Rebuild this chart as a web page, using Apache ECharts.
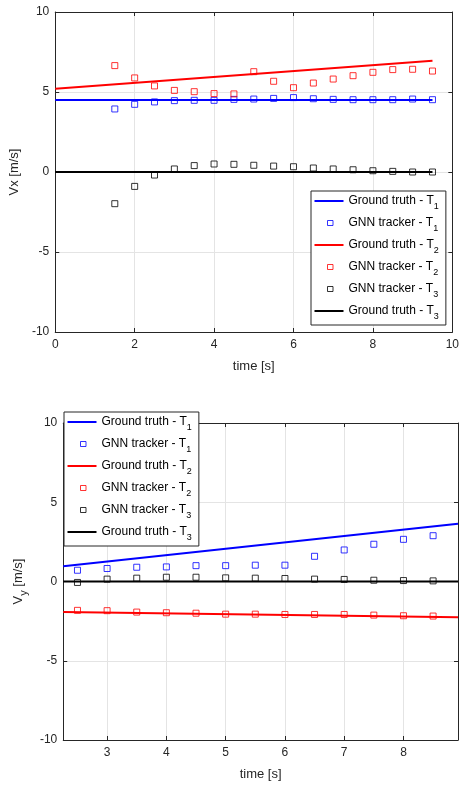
<!DOCTYPE html>
<html><head><meta charset="utf-8">
<script src="https://cdn.jsdelivr.net/npm/echarts@6/dist/echarts.min.js"></script>
<style>html,body{margin:0;padding:0;background:#fff}#c{width:462px;height:787px}</style>
</head><body><div id="c"></div>
<script>
// ---- Data: Vx chart ----
const tTrackX = [1.5,2,2.5,3,3.5,4,4.5,5,5.5,6,6.5,7,7.5,8,8.5,9,9.5];
const vxGnn1 = [3.94,4.23,4.38,4.46,4.48,4.48,4.54,4.56,4.6,4.65,4.58,4.54,4.52,4.52,4.52,4.56,4.52];
const vxGnn2 = [6.65,5.88,5.38,5.1,5.02,4.9,4.88,6.27,5.67,5.27,5.56,5.81,6.02,6.23,6.4,6.42,6.31];
const vxGnn3 = [-1.98,-0.9,-0.19,0.19,0.4,0.5,0.48,0.42,0.37,0.33,0.25,0.19,0.14,0.08,0.04,0,0];
const tTruthX = [0, 9.5];
const vxGt1 = [4.5, 4.5];
const vxGt2 = [5.2, 6.95];
const vxGt3 = [0, 0];
// ---- Data: Vy chart ----
const tTrackY = [2.5,3,3.5,4,4.5,5,5.5,6,6.5,7,7.5,8,8.5];
const vyGnn1 = [0.71,0.82,0.9,0.92,1.0,1.0,1.03,1.03,1.59,1.99,2.35,2.66,2.89];
const vyGnn2 = [-1.82,-1.84,-1.93,-1.97,-2.0,-2.06,-2.06,-2.08,-2.08,-2.08,-2.12,-2.16,-2.18];
const vyGnn3 = [-0.06,0.15,0.21,0.27,0.27,0.23,0.21,0.19,0.15,0.13,0.08,0.06,0.04];
const tTruthY = [2.26, 8.92];
const vyGt1 = [0.96, 3.65];
const vyGt2 = [-1.93, -2.25];
const vyGt3 = [0, 0];
// ---- Ticks ----
const xTicksTop = [0, 10, 2];
const xTicksBottom = [3,4,5,6,7,8];
const yRange = [-10, 10, 5];

const legendNames = ['GT1','GNN1','GT2','GNN2','GNN3','GT3'];
const legendLabels = {
  GT1: ['Ground truth - T','1'], GNN1: ['GNN tracker - T','1'],
  GT2: ['Ground truth - T','2'], GNN2: ['GNN tracker - T','2'],
  GNN3: ['GNN tracker - T','3'], GT3: ['Ground truth - T','3']
};
const legendColors = {GNN1:'#0000ff', GNN2:'#ff0000', GNN3:'#000000'};

const axisColor = '#262626';
const gridColor = '#e4e4e4';
const font = 'Liberation Sans, Arial, sans-serif';

function pairs(xs, ys){ return xs.map((x,i)=>[x, ys[i]]); }

function xAxisCfg(gridIndex, position, showLabel, min, max, interval, custom, name){
  const cfg = {
    type:'value', gridIndex, position, min, max,
    axisLine:{show:true, onZero:false, lineStyle:{color:axisColor, width:1}},
    axisTick:{show:true, inside:true, length:4, lineStyle:{color:axisColor}},
    axisLabel:{show:showLabel, color:axisColor, fontSize:12, fontFamily:font, margin:7},
    splitLine:{show:showLabel, lineStyle:{color:gridColor, width:1}},
  };
  if (interval) cfg.interval = interval;
  if (custom) { cfg.axisTick.customValues = custom; cfg.axisLabel.customValues = custom; }
  if (name) {
    cfg.name = name; cfg.nameLocation = 'middle'; cfg.nameGap = 28;
    cfg.nameTextStyle = {color:axisColor, fontSize:13, fontFamily:font};
  }
  return cfg;
}
function yAxisCfg(gridIndex, position, showLabel, name, nameGap, rich){
  const cfg = {
    type:'value', gridIndex, position, min:yRange[0], max:yRange[1], interval:yRange[2],
    axisLine:{show:true, onZero:false, lineStyle:{color:axisColor, width:1}},
    axisTick:{show:true, inside:true, length:4, lineStyle:{color:axisColor}},
    axisLabel:{show:showLabel, color:axisColor, fontSize:12, fontFamily:font, margin:6},
    splitLine:{show:showLabel, lineStyle:{color:gridColor, width:1}},
  };
  if (name) {
    cfg.name = name; cfg.nameLocation='middle'; cfg.nameGap = nameGap;
    cfg.nameTextStyle = {color:axisColor, fontSize:13, fontFamily:font, rich: rich};
  }
  return cfg;
}

function lineSeries(name, xi, yi, xs, ys, color){
  return {name, type:'line', xAxisIndex:xi, yAxisIndex:yi, data:pairs(xs,ys), symbol:'none',
    lineStyle:{color, width:2}, itemStyle:{color}, clip:true, z:2};
}
function scatterSeries(name, xi, yi, xs, ys, color){
  return {name, type:'scatter', xAxisIndex:xi, yAxisIndex:yi, data:pairs(xs,ys), symbol:'rect', symbolSize:6,
    itemStyle:{color:'rgba(0,0,0,0)', borderColor:color, borderWidth:1}, z:3};
}

const lineIcon = 'path://M0,0M29,6M0,2H29V4H0Z';
const squareIcon = 'path://M0,0M29,6M13,0.5H18.5V5.5H13Z';
const richLegend = {
  a:{fontSize:12, fontFamily:font, color:'#000', lineHeight:14},
  s:{fontSize:9, fontFamily:font, color:'#000', lineHeight:10, padding:[11,0,0,0]}
};
function legendCfg(left, top){
  return {
    left, top, orient:'vertical',
    data: legendNames.map(n => (n.indexOf('GT') === 0 ? {name:n, icon:lineIcon} :
      {name:n, icon:squareIcon, itemStyle:{color:'rgba(0,0,0,0)', borderColor:legendColors[n], borderWidth:1}})),
    itemWidth:29, itemHeight:6, itemGap:2,
    padding:[0,7,4,3], borderColor:axisColor, borderWidth:1, backgroundColor:'#fff',
    selectedMode:false,
    formatter: n => '{a|'+legendLabels[n][0]+'}{s|'+legendLabels[n][1]+'}',
    textStyle:{rich:richLegend, fontFamily:font}
  };
}

const option = {
  animation:false,
  backgroundColor:'#fff',
  grid:[
    {left:55, top:12, width:401, height:320},
    {left:60, top:423, width:398, height:317}
  ],
  xAxis:[
    xAxisCfg(0,'bottom',true, xTicksTop[0], xTicksTop[1], xTicksTop[2], null, 'time [s]'),
    xAxisCfg(0,'top',false, xTicksTop[0], xTicksTop[1], xTicksTop[2], null, null),
    xAxisCfg(1,'bottom',true, tTruthY[0], tTruthY[1], null, xTicksBottom, 'time [s]'),
    xAxisCfg(1,'top',false, tTruthY[0], tTruthY[1], null, xTicksBottom, null)
  ],
  yAxis:[
    yAxisCfg(0,'left',true,'Vx [m/s]',25,null),
    yAxisCfg(0,'right',false,null),
    yAxisCfg(1,'left',true,'{a|V}{s|y}{a| [m/s]}',26,{
      a:{fontSize:13, fontFamily:font, color:axisColor, lineHeight:15},
      s:{fontSize:11, fontFamily:font, color:axisColor, lineHeight:12, padding:[10,0,0,0]}
    }),
    yAxisCfg(1,'right',false,null)
  ],
  legend:[ legendCfg(311,191), legendCfg(64,412) ],
  series:[
    lineSeries('GT1',0,0,tTruthX,vxGt1,'#0000ff'),
    scatterSeries('GNN1',0,0,tTrackX,vxGnn1,'#0000ff'),
    lineSeries('GT2',0,0,tTruthX,vxGt2,'#ff0000'),
    scatterSeries('GNN2',0,0,tTrackX,vxGnn2,'#ff0000'),
    scatterSeries('GNN3',0,0,tTrackX,vxGnn3,'#000000'),
    lineSeries('GT3',0,0,tTruthX,vxGt3,'#000000'),
    lineSeries('GT1',2,2,tTruthY,vyGt1,'#0000ff'),
    scatterSeries('GNN1',2,2,tTrackY,vyGnn1,'#0000ff'),
    lineSeries('GT2',2,2,tTruthY,vyGt2,'#ff0000'),
    scatterSeries('GNN2',2,2,tTrackY,vyGnn2,'#ff0000'),
    scatterSeries('GNN3',2,2,tTrackY,vyGnn3,'#000000'),
    lineSeries('GT3',2,2,tTruthY,vyGt3,'#000000')
  ]
};
const chart = echarts.init(document.getElementById('c'), null, {renderer:'canvas'});
chart.setOption(option);
</script>
</body></html>
